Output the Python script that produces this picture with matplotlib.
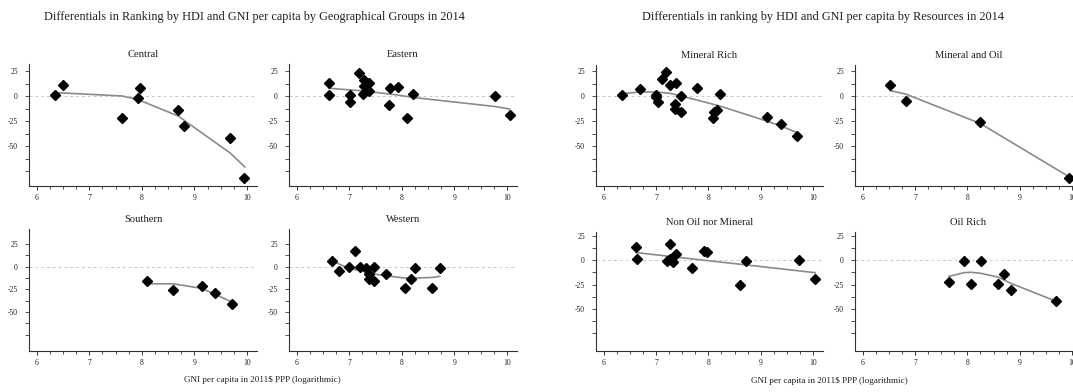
import numpy as np
import matplotlib
matplotlib.use("Agg")
import matplotlib.pyplot as plt
from matplotlib.ticker import FixedLocator, FuncFormatter

plt.rcParams['font.family'] = ['Liberation Serif', 'DejaVu Serif']

# log GNI per capita (x) and HDI-minus-GNI rank differential (y), plus lowess fits
central_gni = [6.35, 6.51, 7.63, 7.92, 7.97, 8.69, 8.81, 9.68, 9.94]
central_diff = [0.7, 10.7, -22, -1.7, 7.7, -14, -30, -41.7, -82]
central_fit_gni = [6.35, 6.51, 7.63, 7.92, 7.97, 8.69, 8.81, 9.68, 9.96]
central_fit_diff = [3.3, 3.0, 0.0, -3.5, -4.5, -20, -24.5, -57, -71]

eastern_gni = [6.62, 6.62, 7.02, 7.02, 7.18, 7.28, 7.28, 7.26, 7.38, 7.38,
               7.75, 7.78, 7.92, 8.10, 8.22, 9.77, 10.05]
eastern_diff = [12.7, 0.7, 0.7, -6.3, 23.3, 15.7, 10.3, 1.7, 12.7, 5.3,
                -9, 7.7, 8.7, -22, 2, -0.3, -19]
eastern_fit_gni = [6.62, 7.28, 7.92, 8.22, 9.77, 10.05]
eastern_fit_diff = [7.7, 5.0, 1.0, -1.5, -10.5, -13]

southern_gni = [8.10, 8.60, 9.14, 9.40, 9.71]
southern_diff = [-15.9, -25.2, -21.1, -29.3, -41.1]
southern_fit_gni = [8.10, 8.60, 9.14, 9.40, 9.71]
southern_fit_diff = [-18.9, -18.9, -24, -30.7, -38.9]

western_gni = [6.68, 6.81, 6.99, 7.11, 7.21, 7.32, 7.37, 7.37, 7.47, 7.48,
               7.69, 8.06, 8.17, 8.25, 8.58, 8.72]
western_diff = [6.7, -5.2, -0.4, 16.7, -0.7, -1.9, -8.1, -13.3, 0, -15.9,
                -8.1, -23.7, -14.1, -1.1, -23.7, -1.1]
western_fit_gni = [6.68, 6.99, 7.21, 7.47, 7.69, 8.06, 8.25, 8.58, 8.72]
western_fit_diff = [6.3, -1.9, -4.4, -8.1, -10, -12.6, -12.6, -11.9, -10.7]

mineral_gni = [6.36, 6.69, 7.00, 7.01, 7.03, 7.11, 7.19, 7.27, 7.38, 7.37,
               7.37, 7.47, 7.48, 7.78, 8.09, 8.11, 8.17, 8.22, 9.13, 9.38, 9.70]
mineral_diff = [0.7, 7, 0.7, -0.7, -6.3, 16.7, 23.7, 10.7, 12.7, -8,
                -13.3, 0, -16, 7.7, -22, -16, -14, 2, -20.7, -28.3, -40.3]
mineral_fit_gni = [6.36, 6.69, 7.00, 7.27, 7.47, 7.78, 8.22, 9.13, 9.38, 9.70]
mineral_fit_diff = [2.3, 4.0, 4.0, 2.7, 0.0, -4.0, -10, -25.3, -30, -36.7]

minoil_gni = [6.53, 6.82, 8.24, 9.95]
minoil_diff = [10.7, -5.3, -26.3, -82.3]
minoil_fit_gni = [6.53, 6.82, 8.24, 9.95]
minoil_fit_diff = [5.3, 2.0, -27.3, -81]

nonoil_gni = [6.62, 6.64, 7.21, 7.26, 7.27, 7.29, 7.32, 7.38, 7.68, 7.91,
              7.97, 8.61, 8.71, 9.74, 10.04]
nonoil_diff = [13.7, 1.4, -0.7, 1.4, 17.1, 0, -2.1, 6.5, -7.9, 9.9,
               8.6, -25, -1, 0.3, -18.8]
nonoil_fit_gni = [6.62, 10.04]
nonoil_fit_diff = [7.9, -12.7]

oil_gni = [7.65, 7.94, 8.07, 8.26, 8.58, 8.70, 8.83, 9.70]
oil_diff = [-21.9, -0.7, -24, -0.7, -24, -13.7, -30.1, -42.1]
oil_fit_gni = [7.65, 7.94, 8.07, 8.26, 8.58, 8.70, 8.83, 9.70]
oil_fit_diff = [-16.4, -12.7, -12.3, -13.4, -17.1, -20.2, -23.6, -42.1]

W, H = 1073, 392
TEXT = '#1e1e2a'
fig = plt.figure(figsize=(W / 100, H / 100), dpi=100)
fig.patch.set_facecolor('white')


def add_panel(name, gni, diff, fit_gni, fit_diff, box, ylim):
    left, top, right, bottom = box
    ax = fig.add_axes([left / W, 1 - bottom / H, (right - left) / W, (bottom - top) / H])
    ax.axhline(0, color='#c8c8c8', lw=0.7, ls=(0, (3, 3)), zorder=1)
    ax.plot(fit_gni, fit_diff, color='#8a8a8a', lw=1.2, zorder=2)
    ax.plot(gni, diff, ls='none', marker='D', ms=4.6, color='black', zorder=3)
    ax.set_xlim(5.855, 10.19)
    ax.set_ylim(*ylim)
    for s in ('top', 'right'):
        ax.spines[s].set_visible(False)
    for s in ('left', 'bottom'):
        ax.spines[s].set_linewidth(0.8)
        ax.spines[s].set_color('#333333')
    ax.xaxis.set_major_locator(FixedLocator([6, 7, 8, 9, 10]))
    ax.xaxis.set_minor_locator(FixedLocator(np.arange(6, 10.01, 0.25)))
    ax.yaxis.set_major_locator(FixedLocator(np.arange(-75, 25.1, 12.5)))
    ax.yaxis.set_major_formatter(FuncFormatter(
        lambda v, p: '%d' % v if (v % 25 == 0 and v > -75) else ''))
    ax.tick_params(axis='x', which='major', length=3, width=0.7, pad=3,
                   labelsize=5.5, colors='#333333', labelcolor=TEXT)
    ax.tick_params(axis='x', which='minor', length=2, width=0.6, colors='#333333')
    ax.tick_params(axis='y', which='major', length=3, width=0.6, pad=5,
                   labelsize=5.5, colors='#333333', labelcolor=TEXT)
    ax.set_title(name, fontsize=7.6, color=TEXT, pad=5)
    return ax


add_panel('Central', central_gni, central_diff, central_fit_gni, central_fit_diff,
          (29, 64, 257, 186), (-90, 32))
add_panel('Eastern', eastern_gni, eastern_diff, eastern_fit_gni, eastern_fit_diff,
          (289, 64, 517, 186), (-90, 32))
add_panel('Southern', southern_gni, southern_diff, southern_fit_gni, southern_fit_diff,
          (29, 229, 257, 351), (-93, 41.5))
add_panel('Western', western_gni, western_diff, western_fit_gni, western_fit_diff,
          (289, 229, 517, 351), (-93, 41.5))
add_panel('Mineral Rich', mineral_gni, mineral_diff, mineral_fit_gni, mineral_fit_diff,
          (596, 65, 823, 186), (-90, 31))
add_panel('Mineral and Oil', minoil_gni, minoil_diff, minoil_fit_gni, minoil_fit_diff,
          (855, 65, 1082, 186), (-90, 31))
add_panel('Non Oil nor Mineral', nonoil_gni, nonoil_diff, nonoil_fit_gni, nonoil_fit_diff,
          (596, 232, 823, 351), (-93, 29))
add_panel('Oil Rich', oil_gni, oil_diff, oil_fit_gni, oil_fit_diff,
          (855, 232, 1082, 351), (-93, 29))

fig.text(254 / W, 1 - 17 / H,
         'Differentials in Ranking by HDI and GNI per capita by Geographical Groups in 2014',
         ha='center', va='center', fontsize=8.8, color=TEXT)
fig.text(823 / W, 1 - 17 / H,
         'Differentials in ranking by HDI and GNI per capita by Resources in 2014',
         ha='center', va='center', fontsize=8.8, color=TEXT)
fig.text(262 / W, 1 - 380 / H, 'GNI per capita in 2011$ PPP (logarithmic)',
         ha='center', va='center', fontsize=6.6, color=TEXT)
fig.text(829 / W, 1 - 381 / H, 'GNI per capita in 2011$ PPP (logarithmic)',
         ha='center', va='center', fontsize=6.6, color=TEXT)

fig.savefig('out.png', dpi=100)
